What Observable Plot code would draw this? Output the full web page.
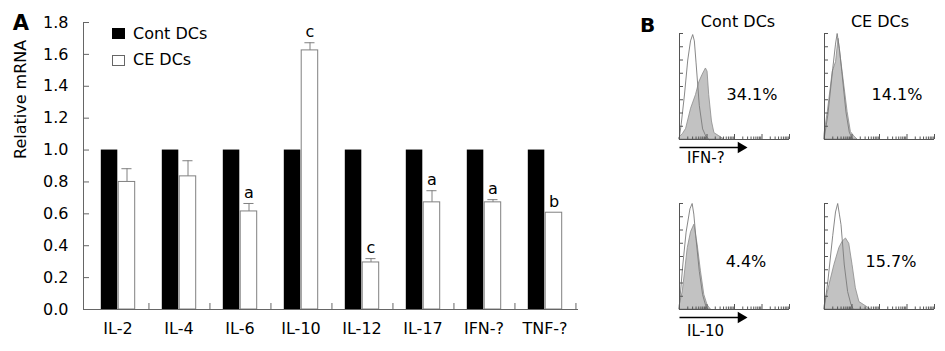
<!DOCTYPE html>
<html><head><meta charset="utf-8">
<script src="https://cdn.jsdelivr.net/npm/d3@7"></script>
<script src="https://cdn.jsdelivr.net/npm/@observablehq/plot@0.6"></script>
<style>
body{margin:0;background:#fff;}
#root{position:relative;width:945px;height:351px;overflow:hidden;background:#fff;font-family:"DejaVu Sans",Verdana,sans-serif;color:#000;}
.abs{position:absolute;white-space:nowrap;line-height:1;}
.c{transform:translate(-50%,-50%);}
.lv{transform:translate(0,-50%);}
.plot{position:absolute;}
</style></head><body><div id="root"></div>
<script>
// ---------- Panel A data ----------
const cytokines = ["IL-2","IL-4","IL-6","IL-10","IL-12","IL-17","IFN-?","TNF-?"];
const seriesNames = ["Cont DCs","CE DCs"];
const contValues = [1.0,1.0,1.0,1.0,1.0,1.0,1.0,1.0];
const ceValues   = [0.80,0.835,0.615,1.625,0.295,0.672,0.672,0.607];
const ceErrors   = [0.083,0.098,0.05,0.048,0.024,0.073,0.017,0];
const ceLetters  = ["","","a","c","c","a","a","b"];
const yTicks = [0,0.2,0.4,0.6,0.8,1.0,1.2,1.4,1.6,1.8];

// ---------- Panel B data (x in log decades 0..4, y relative count 0..1) ----------
const colTitles = ["Cont DCs","CE DCs"];
const rowMarkers = ["IFN-?","IL-10"];
const percents = ["34.1%","14.1%","4.4%","15.7%"];
const ifnContIso   = [[0,0.03],[0.06,0.14],[0.18,0.42],[0.3,0.75],[0.4,0.93],[0.48,0.99],[0.54,0.93],[0.6,0.73],[0.72,0.32],[0.84,0.1],[0.96,0.03],[1.08,0]];
const ifnContStain = [[0,0.02],[0.12,0.05],[0.24,0.1],[0.42,0.29],[0.6,0.42],[0.72,0.54],[0.84,0.61],[0.96,0.67],[1.02,0.64],[1.08,0.42],[1.18,0.17],[1.27,0.06],[1.45,0.03],[1.63,0]];
const ifnCeIso     = [[0,0.03],[0.12,0.23],[0.3,0.67],[0.4,0.9],[0.46,1.0],[0.54,0.86],[0.63,0.64],[0.78,0.26],[0.9,0.07],[1.02,0]];
const ifnCeStain   = [[0,0.05],[0.12,0.26],[0.3,0.64],[0.42,0.73],[0.51,0.95],[0.6,0.76],[0.72,0.51],[0.84,0.26],[0.96,0.07],[1.08,0.03],[1.2,0]];
const il10ContIso  = [[0,0.05],[0.12,0.42],[0.24,0.73],[0.38,0.95],[0.46,1.0],[0.52,0.9],[0.6,0.67],[0.72,0.36],[0.84,0.14],[0.96,0.03],[1.05,0]];
const il10ContStain= [[0,0.03],[0.12,0.17],[0.3,0.58],[0.42,0.73],[0.54,0.8],[0.66,0.61],[0.78,0.36],[0.9,0.14],[1.02,0.04],[1.14,0]];
const il10CeIso    = [[0,0.03],[0.12,0.26],[0.3,0.7],[0.4,0.92],[0.48,1.0],[0.54,0.9],[0.6,0.8],[0.72,0.42],[0.84,0.17],[0.96,0.05],[1.05,0]];
const il10CeStain  = [[0,0.03],[0.18,0.23],[0.36,0.42],[0.54,0.58],[0.66,0.64],[0.78,0.67],[0.9,0.62],[1.02,0.42],[1.14,0.2],[1.27,0.07],[1.45,0.04],[1.69,0]];
const majorTicks = [0,1,2,3,4];
const countTicks = [0.125,0.25,0.375,0.5,0.625,0.75,0.875,1];
const arrowSpan = [0,2.2];

const root = document.getElementById("root");
function addDiv(text, cls, left, top, css) {
  const d = document.createElement("div");
  d.className = "abs " + cls;
  d.textContent = text;
  d.style.left = left + "px"; d.style.top = top + "px";
  Object.assign(d.style, css || {});
  root.appendChild(d);
  return d;
}

// ---------- Panel A ----------
const dataA = cytokines.map((c,i)=>({cytokine:c, cont:contValues[i], ce:ceValues[i], err:ceErrors[i], letter:ceLetters[i]}));
const withErr = dataA.filter(d=>d.err>0);
const W = 600, ML = 83, MR = 22;
const frameW = W - ML - MR;
const bw = frameW / cytokines.length;
const axisCol = "#666";
const outline = "#808080";

const chartA = Plot.plot({
  width: W, height: 351, marginLeft: ML, marginRight: MR, marginTop: 22, marginBottom: 42,
  x: {domain: cytokines, padding: 0, axis: null, label: null},
  y: {domain: [0, 1.8], axis: null, label: null},
  style: {fontFamily: "DejaVu Sans, Verdana, sans-serif", fontSize: "16px", background: "transparent", overflow: "visible", color: "#000"},
  marks: [
    Plot.barY(dataA, {x: "cytokine", y: "cont", fill: "#000", insetLeft: 13.8, insetRight: 30.7}),
    Plot.barY(dataA, {x: "cytokine", y: "ce", fill: "#fff", stroke: outline, strokeWidth: 1, insetLeft: 31.2, insetRight: 13.3}),
    Plot.ruleX(withErr, {x: "cytokine", y1: "ce", y2: d=>d.ce+d.err, dx: 9, stroke: outline}),
    Plot.tickY(withErr, {x: "cytokine", y: d=>d.ce+d.err, insetLeft: 34.4, insetRight: 16.5, stroke: outline}),
    Plot.text(dataA, {x: "cytokine", y: d=>d.ce+d.err, text: "letter", dx: 9, dy: -11, lineAnchor: "middle", fontSize: 16}),
    Plot.frame({anchor: "left", stroke: axisCol}),
    Plot.ruleY([0], {stroke: axisCol}),
    Plot.ruleY(yTicks, {y: d=>d, insetRight: frameW - 6, stroke: axisCol}),
    Plot.ruleX(cytokines, {x: d=>d, y1: 0, y2: 0, insetTop: -6, dx: bw/2, stroke: axisCol}),
    Plot.axisX({tickSize: 0, tickPadding: 13, fontSize: 16, label: null}),
    Plot.axisY({ticks: yTicks, tickSize: 0, tickPadding: 15, tickFormat: d3.format(".1f"), fontSize: 16, label: null}),
    Plot.text(["Relative mRNA"], {frameAnchor: "left", text: d=>d, rotate: -90, dx: -63, dy: -7, fontSize: 16})
  ]
});
chartA.classList.add("plot");
chartA.style.left = "0px"; chartA.style.top = "0px";
root.appendChild(chartA);

// legend
const sqA = document.createElement("div");
Object.assign(sqA.style, {position:"absolute", left:"112px", top:"28px", width:"13px", height:"11px", background:"#000"});
root.appendChild(sqA);
const sqB = document.createElement("div");
Object.assign(sqB.style, {position:"absolute", left:"112px", top:"54.5px", width:"13px", height:"11.5px", background:"#fff", border:"1px solid #666", boxSizing:"border-box"});
root.appendChild(sqB);
addDiv(seriesNames[0], "lv", 133, 33.5, {fontSize:"16px"});
addDiv(seriesNames[1], "lv", 133, 59.5, {fontSize:"16px"});

addDiv("A", "c", 21, 23, {fontSize:"21px", fontWeight:"bold"});
addDiv("B", "c", 647.5, 25, {fontSize:"20px", fontWeight:"bold"});

// ---------- Panel B ----------
const minorTicks = [];
for (let d = 0; d < 4; d++) for (let k = 2; k <= 9; k++) minorTicks.push(d + Math.log10(k));

function mini(stain, iso, withArrow) {
  const marks = [
    Plot.areaY(stain, {x: d=>d[0], y: d=>d[1], fill: "#c2c2c2", stroke: "#8c8c8c", strokeWidth: 0.8}),
    Plot.lineY(iso, {x: d=>d[0], y: d=>d[1], stroke: "#7a7a7a", strokeWidth: 0.9}),
    Plot.ruleX([0], {x: d=>d, y1: 0, y2: 1, stroke: "#555"}),
    Plot.ruleY([0], {y: d=>d, x1: 0, x2: 4, stroke: "#555"}),
    Plot.ruleY(countTicks, {y: d=>d, x1: 0, x2: 0, insetRight: -4, stroke: "#555"}),
    Plot.ruleX(minorTicks, {x: d=>d, y1: 0, y2: 0, insetTop: -2.5, stroke: "#555"}),
    Plot.ruleX(majorTicks, {x: d=>d, y1: 0, y2: 0, insetTop: -5, stroke: "#555"})
  ];
  if (withArrow) {
    marks.push(Plot.link([arrowSpan], {x1: d=>d[0], x2: d=>d[1], y1: 0, y2: 0, dy: 8, stroke: "#000", strokeWidth: 1.3}));
    marks.push(Plot.dot([arrowSpan], {x: d=>d[1], y: 0, dy: 8, dx: 1, symbol: "triangle", rotate: 90, r: 4.2, fill: "#000", stroke: "none"}));
  }
  return Plot.plot({
    width: 118, height: 124, marginLeft: 4, marginRight: 4, marginTop: 4, marginBottom: 14,
    x: {domain: [0,4], axis: null}, y: {domain: [0,1], axis: null},
    style: {background: "transparent", overflow: "visible"},
    marks
  });
}
const panels = [
  [ifnContStain, ifnContIso, true, 675, 29],
  [ifnCeStain, ifnCeIso, false, 820, 29],
  [il10ContStain, il10ContIso, true, 675, 199],
  [il10CeStain, il10CeIso, false, 820, 199]
];
for (const [s, iso, arr, l, t] of panels) {
  const p = mini(s, iso, arr);
  p.classList.add("plot");
  p.style.left = l + "px"; p.style.top = t + "px";
  root.appendChild(p);
}
addDiv(colTitles[0], "c", 738, 22, {fontSize:"16px"});
addDiv(colTitles[1], "c", 880, 22, {fontSize:"16px"});
addDiv(percents[0], "c", 752, 95, {fontSize:"16px"});
addDiv(percents[1], "c", 897, 95, {fontSize:"16px"});
addDiv(percents[2], "c", 746, 262, {fontSize:"16px"});
addDiv(percents[3], "c", 891, 262, {fontSize:"16px"});
addDiv(rowMarkers[0], "lv", 687, 157.5, {fontSize:"15px"});
addDiv(rowMarkers[1], "lv", 687, 330.5, {fontSize:"15px"});
</script></body></html>
